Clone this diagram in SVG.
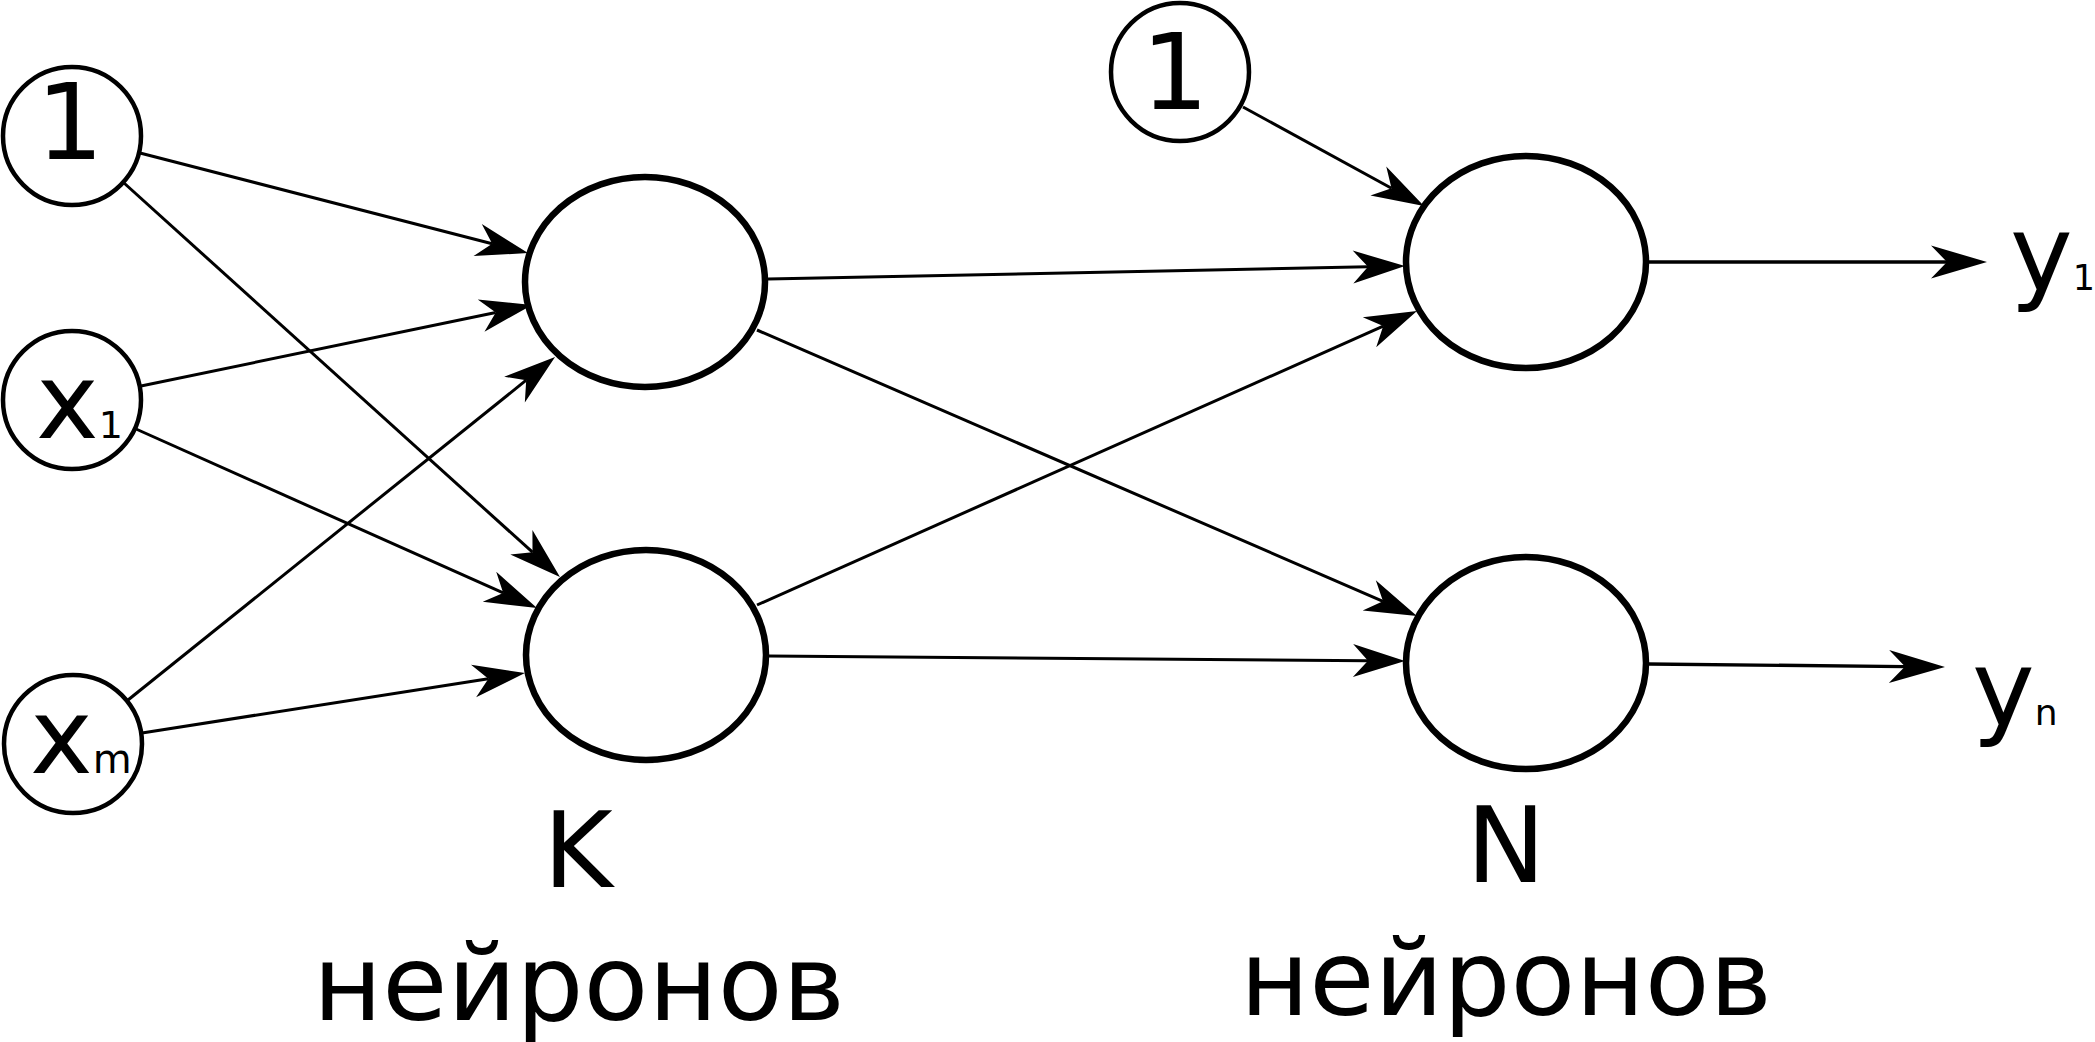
<svg xmlns="http://www.w3.org/2000/svg" width="2095" height="1042" viewBox="0 0 2095 1042">
<style>
  .in { fill: #ffffff; stroke: #000000; stroke-width: 4.5; }
  .neuron { fill: #ffffff; stroke: #000000; stroke-width: 6.5; }
  .edge { fill: none; stroke: #000000; stroke-width: 3; }
  .edgeL { fill: none; stroke: #000000; stroke-width: 3.4; }
  .t { font-family: "DejaVu Sans", "Liberation Sans", sans-serif; fill: #000000; font-size: 106px; }
</style>
<defs>
  <marker id="arr" markerUnits="userSpaceOnUse" orient="auto" refX="0" refY="0" markerWidth="60" markerHeight="40" style="overflow:visible">
    <path d="M37,0 L-15,-16.5 L0,0 L-15,16.5 Z" fill="#000000"/>
  </marker>
  <marker id="arrL" markerUnits="userSpaceOnUse" orient="auto" refX="0" refY="0" markerWidth="60" markerHeight="40" style="overflow:visible">
    <path d="M40,0 L-16,-16.5 L0,0 L-16,16.5 Z" fill="#000000"/>
  </marker>
</defs>
<rect width="2095" height="1042" fill="#ffffff"/>

<g id="connectors">
  <line class="edge" x1="140" y1="153" x2="492.2" y2="243.8" marker-end="url(#arr)"/>
  <line class="edge" x1="124" y1="183" x2="532.5" y2="552.2" marker-end="url(#arr)"/>
  <line class="edge" x1="141" y1="386" x2="495.8" y2="312.5" marker-end="url(#arr)"/>
  <line class="edge" x1="136" y1="429" x2="503.2" y2="592.9" marker-end="url(#arr)"/>
  <line class="edge" x1="128" y1="700" x2="526.2" y2="380.2" marker-end="url(#arr)"/>
  <line class="edge" x1="142" y1="733" x2="488.4" y2="678.7" marker-end="url(#arr)"/>
  <line class="edge" x1="768" y1="279" x2="1368" y2="266.75" marker-end="url(#arr)"/>
  <line class="edge" x1="757" y1="330" x2="1383" y2="601.3" marker-end="url(#arr)"/>
  <line class="edge" x1="757" y1="605" x2="1383.2" y2="326.1" marker-end="url(#arr)"/>
  <line class="edge" x1="768" y1="656" x2="1368" y2="660.7" marker-end="url(#arr)"/>
  <line class="edge" x1="1243" y1="107" x2="1391.5" y2="188.2" marker-end="url(#arr)"/>
  <line class="edgeL" x1="1648" y1="262" x2="1947" y2="262" marker-end="url(#arrL)"/>
  <line class="edgeL" x1="1648" y1="664" x2="1905" y2="666.6" marker-end="url(#arrL)"/>
</g>

<g id="input-bias">
  <circle class="in" cx="72" cy="136" r="69"/>
  <text class="t" x="70" y="159" text-anchor="middle">1</text>
</g>
<g id="input-x1">
  <circle class="in" cx="72" cy="400" r="69"/>
  <text class="t" x="36" y="438">x<tspan font-size="38">1</tspan></text>
</g>
<g id="input-xm">
  <circle class="in" cx="73" cy="744" r="69"/>
  <text class="t" x="30" y="773">x<tspan font-size="40">m</tspan></text>
</g>
<g id="hidden-bias">
  <circle class="in" cx="1180" cy="72" r="69"/>
  <text class="t" x="1175" y="109" text-anchor="middle">1</text>
</g>
<g id="hidden-1">
  <ellipse class="neuron" cx="645" cy="282" rx="120" ry="105"/>
</g>
<g id="hidden-k">
  <ellipse class="neuron" cx="646" cy="655" rx="120" ry="105"/>
</g>
<g id="output-1">
  <ellipse class="neuron" cx="1526" cy="262" rx="120" ry="106"/>
</g>
<g id="output-n">
  <ellipse class="neuron" cx="1526" cy="663" rx="120" ry="106"/>
</g>
<g id="label-y1">
  <text class="t" x="2010" y="290">y<tspan font-size="35">1</tspan></text>
</g>
<g id="label-yn">
  <text class="t" x="1972" y="725">y<tspan font-size="36">n</tspan></text>
</g>
<g id="label-k">
  <text class="t" x="578" y="887" text-anchor="middle">K</text>
  <text class="t" x="579" y="1020" text-anchor="middle">нейронов</text>
</g>
<g id="label-n">
  <text class="t" x="1506" y="882" text-anchor="middle">N</text>
  <text class="t" x="1506" y="1015" text-anchor="middle">нейронов</text>
</g>
</svg>
